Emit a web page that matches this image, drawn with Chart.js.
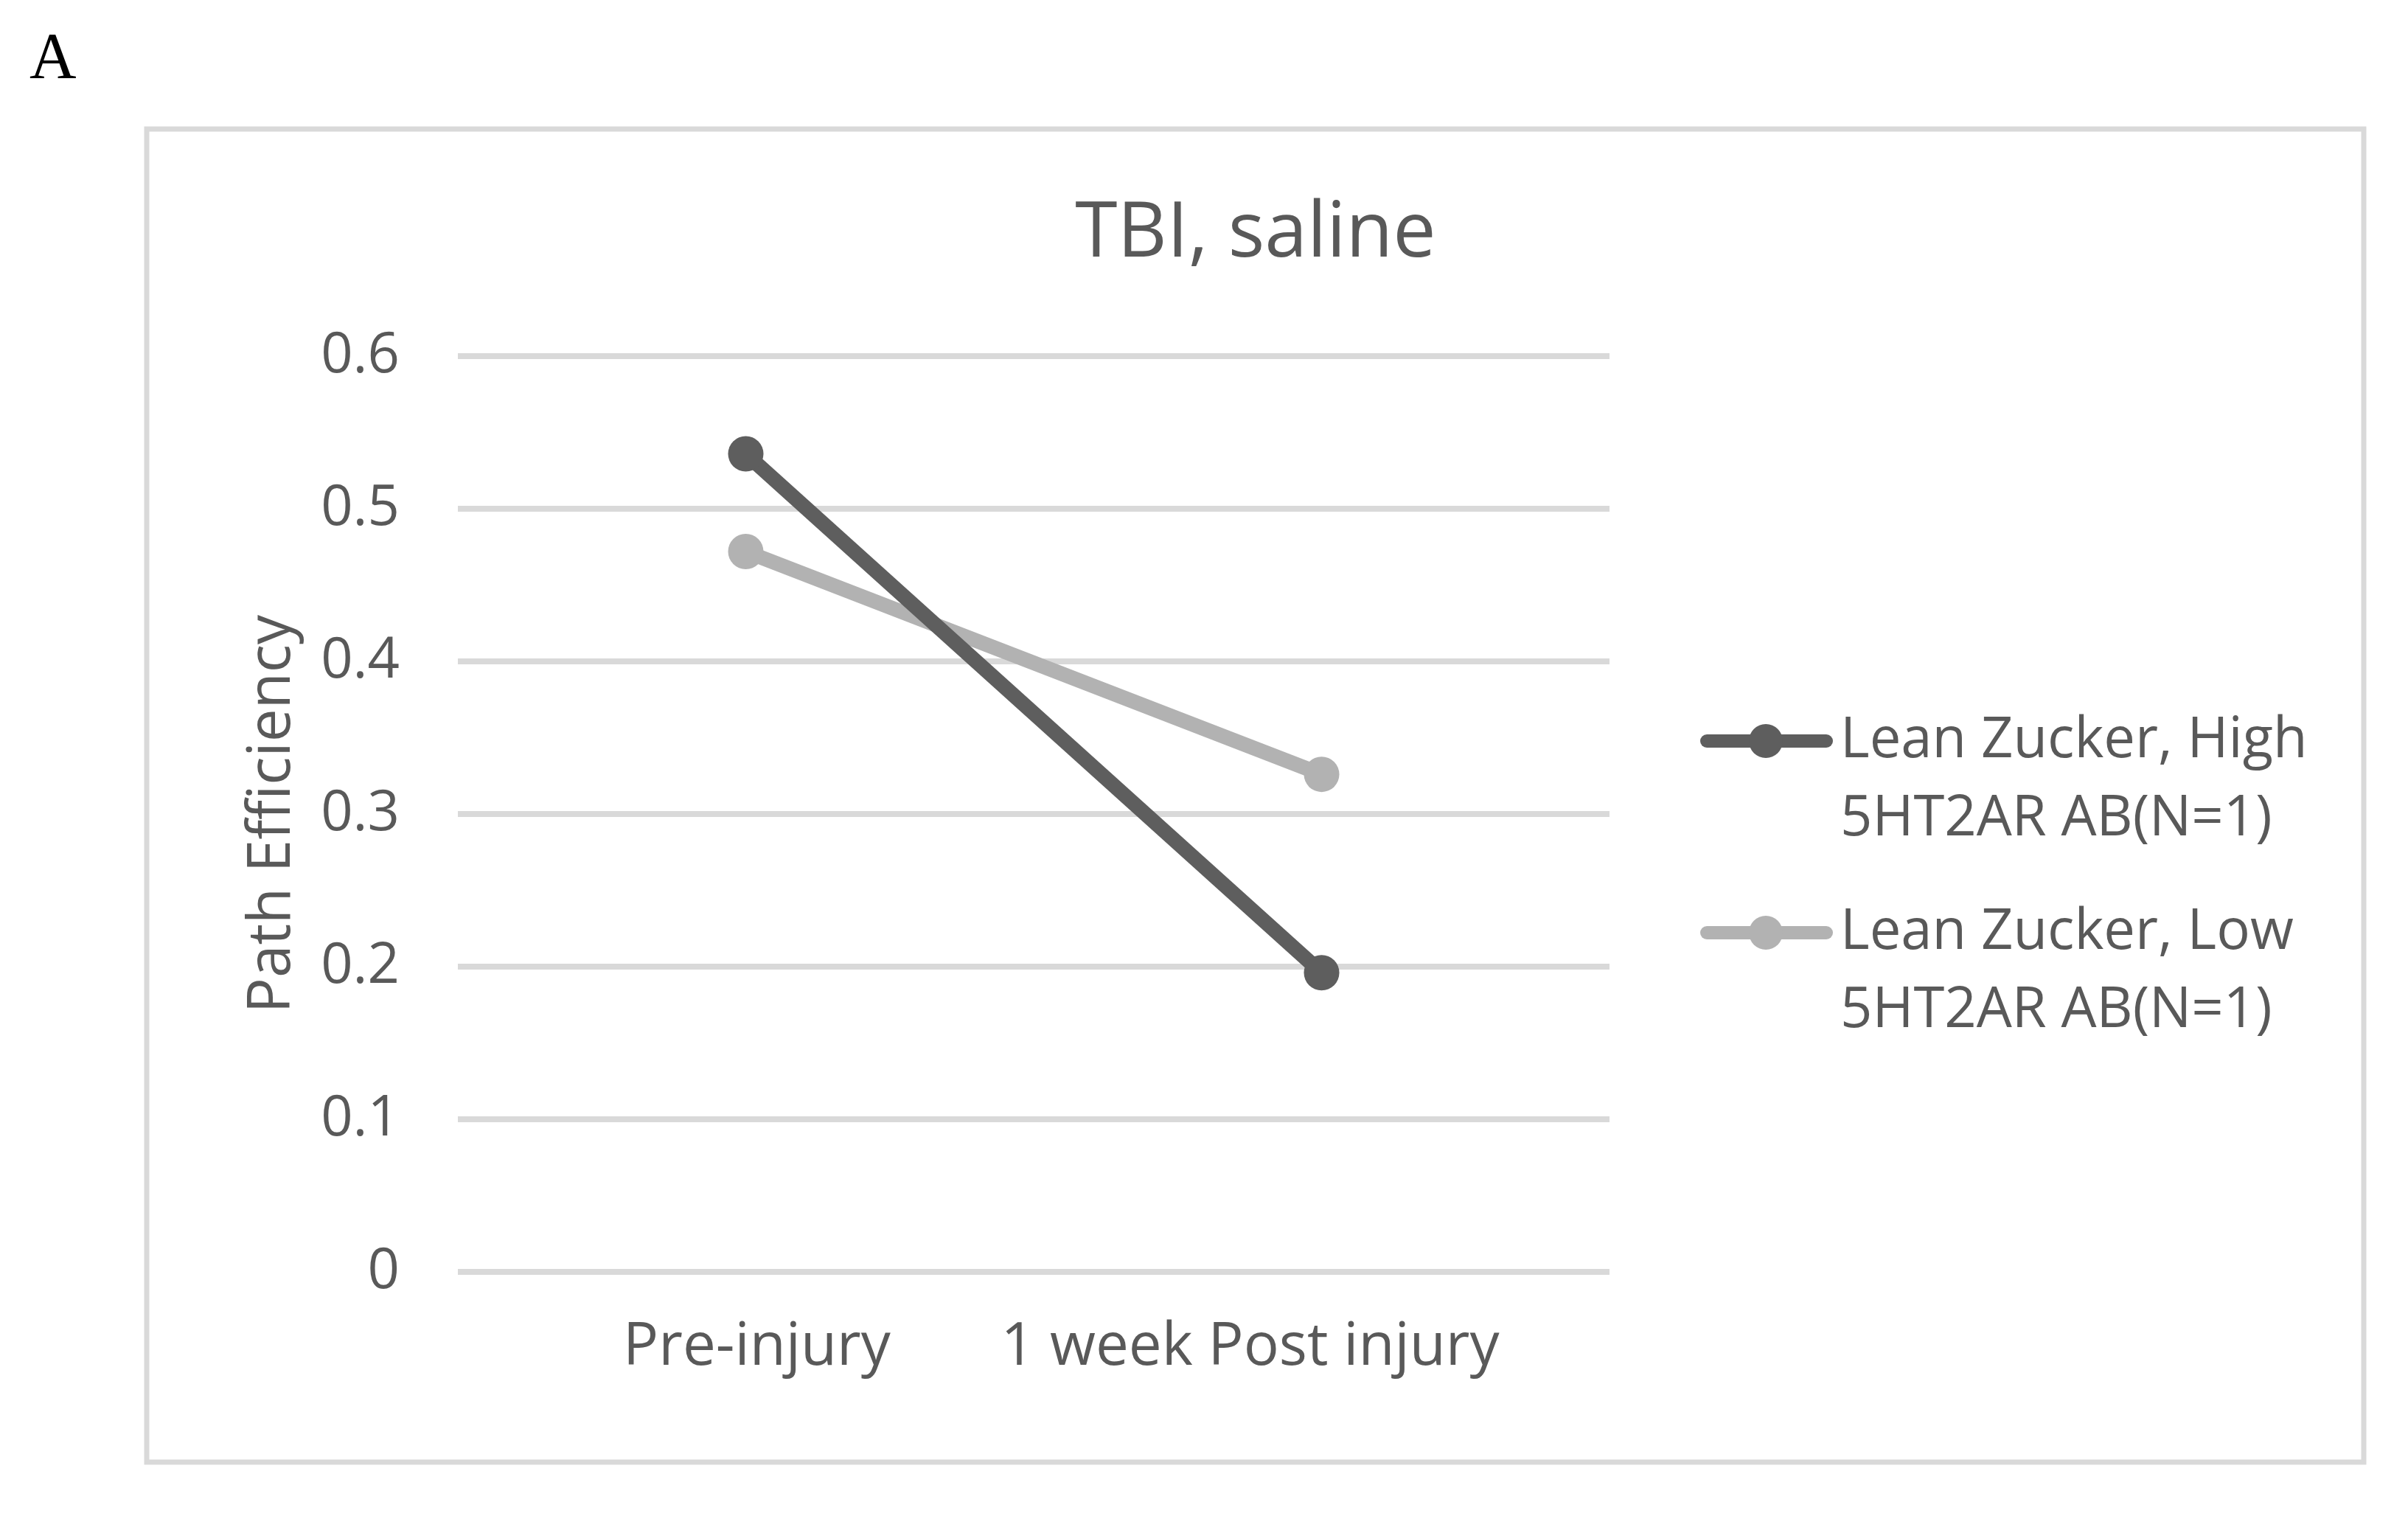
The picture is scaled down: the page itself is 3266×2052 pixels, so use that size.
<!DOCTYPE html>
<html>
<head>
<meta charset="utf-8">
<script src="https://cdn.jsdelivr.net/npm/chart.js@4.4.1/dist/chart.umd.min.js"></script>
<style>
  html, body { margin: 0; padding: 0; background: #fff; }
  canvas { display: block; }
</style>
</head>
<body>
<canvas id="chart" width="3266" height="2052"></canvas>
<script>
// data
const categories = ["Pre-injury", "1 week Post injury"];
const highValues = [0.536, 0.196];
const lowValues = [0.472, 0.326];
const seriesLabels = [
  ["Lean Zucker, High", "5HT2AR AB(N=1)"],
  ["Lean Zucker, Low", "5HT2AR AB(N=1)"],
];
const seriesColors = ["#5e5e5e", "#b2b2b2"];
const yTicks = [0, 0.1, 0.2, 0.3, 0.4, 0.5, 0.6];
const chartTitle = "TBI, saline";
const yTitle = "Path Efficiency";
const panelLabel = "A";

const textColor = "#595959";
const gridColor = "#d9d9d9";
const font = "'Open Sans', 'Noto Sans', sans-serif";
// category labels in the original sit a bit off their points
const xLabelShift = [15, -97];

// frame, panel letter, title, category labels and legend
const decor = {
  id: "decor",
  beforeDraw(chart) {
    const ctx = chart.ctx;
    ctx.save();
    ctx.fillStyle = "#fff";
    ctx.fillRect(0, 0, chart.width, chart.height);
    ctx.strokeStyle = gridColor;
    ctx.lineWidth = 7;
    ctx.strokeRect(199, 175, 3007, 1808);
    ctx.fillStyle = "#000";
    ctx.font = "88px 'Liberation Serif', serif";
    ctx.textBaseline = "alphabetic";
    ctx.fillText(panelLabel, 40, 105);
    ctx.restore();
  },
  afterDraw(chart) {
    const ctx = chart.ctx;
    ctx.save();
    ctx.fillStyle = textColor;
    ctx.font = "104px " + font;
    ctx.textAlign = "center";
    ctx.textBaseline = "middle";
    ctx.fillText(chartTitle, 1703, 318);

    // x labels, placed from the category scale
    const xs = chart.scales.x;
    ctx.font = "80px " + font;
    categories.forEach((c, i) => {
      ctx.fillText(c, xs.getPixelForValue(i) + xLabelShift[i], 1828);
    });

    // legend
    chart.data.datasets.forEach((ds, i) => {
      const y = 1005 + i * 260;
      ctx.strokeStyle = ds.borderColor;
      ctx.lineWidth = 18;
      ctx.lineCap = "round";
      ctx.beginPath();
      ctx.moveTo(2315, y);
      ctx.lineTo(2477, y);
      ctx.stroke();
      ctx.fillStyle = ds.borderColor;
      ctx.beginPath();
      ctx.arc(2395, y, 23, 0, Math.PI * 2);
      ctx.fill();
      ctx.fillStyle = textColor;
      ctx.font = "76px " + font;
      ctx.textAlign = "left";
      ctx.textBaseline = "middle";
      seriesLabels[i].forEach((line, j) => {
        ctx.fillText(line, 2496, y + j * 106);
      });
    });
    ctx.restore();
  },
};

const makeSet = (label, values, color) => ({
  label: label.join(" "),
  data: values,
  borderColor: color,
  backgroundColor: color,
  borderWidth: 20,
  pointRadius: 24,
  pointHoverRadius: 24,
  pointBackgroundColor: color,
  pointBorderWidth: 0,
  tension: 0,
});

const ctx = document.getElementById("chart").getContext("2d");
new Chart(ctx, {
  type: "line",
  data: {
    labels: categories,
    datasets: [
      makeSet(seriesLabels[0], highValues, seriesColors[0]),
      makeSet(seriesLabels[1], lowValues, seriesColors[1]),
    ],
  },
  options: {
    responsive: false,
    animation: false,
    events: [],
    layout: { padding: { left: 317, right: 1083, top: 483, bottom: 77 } },
    plugins: {
      legend: { display: false },
      title: { display: false },
      tooltip: { enabled: false },
    },
    scales: {
      x: {
        offset: true,
        grid: { display: false },
        border: { display: false },
        ticks: { display: false },
        afterFit: (s) => { s.height = 250; },
      },
      y: {
        min: 0,
        max: 0.6,
        grid: { color: gridColor, lineWidth: 8, drawTicks: false },
        border: { display: false },
        afterBuildTicks: (s) => { s.ticks = yTicks.map((v) => ({ value: v })); },
        ticks: {
          color: textColor,
          font: { family: font, size: 76 },
          padding: 79,
          callback: (v) => (v === 0 ? "0" : v.toFixed(1)),
        },
        title: {
          display: true,
          text: yTitle,
          color: textColor,
          font: { family: font, size: 80 },
          padding: { top: 5, bottom: 0 },
        },
        afterFit: (s) => { s.width = 304; },
      },
    },
  },
  plugins: [decor],
});
</script>
</body>
</html>
